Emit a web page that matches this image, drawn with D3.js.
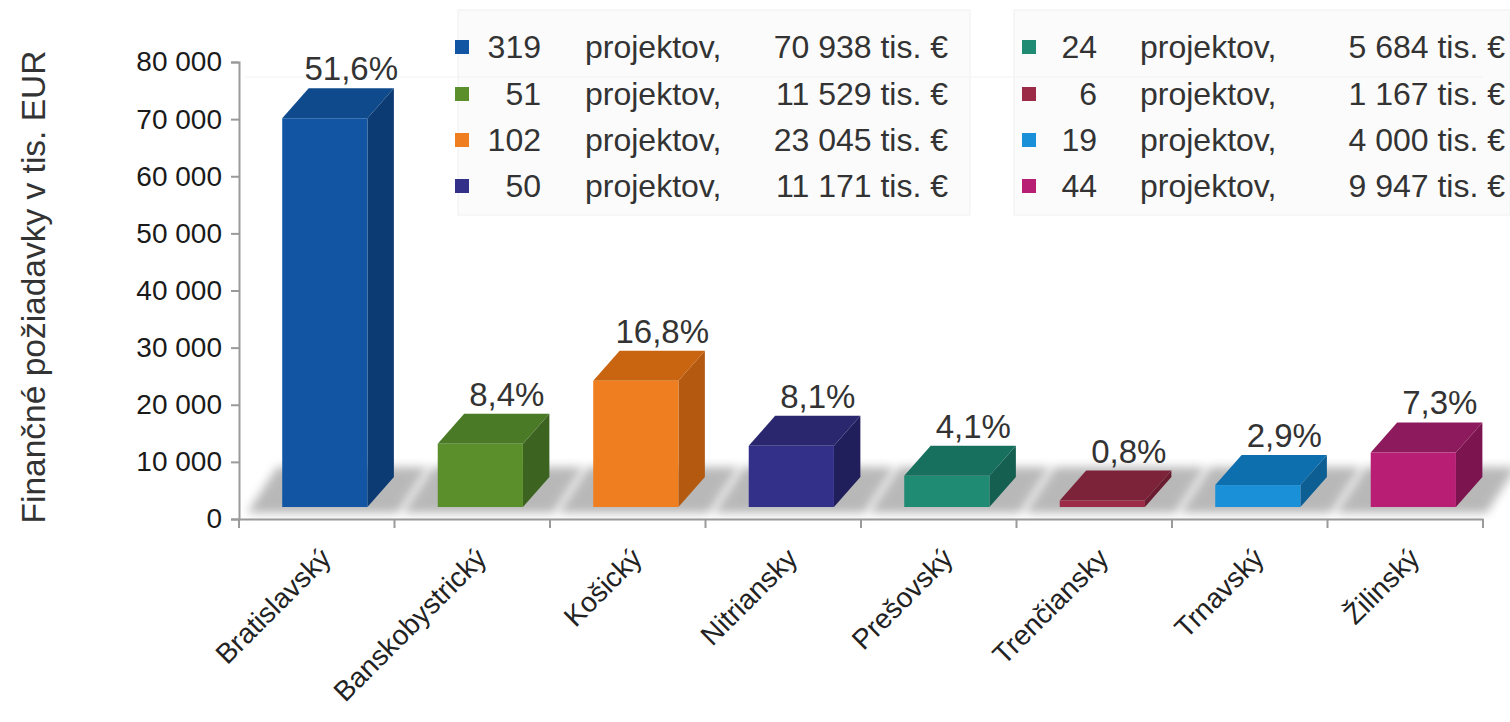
<!DOCTYPE html>
<html>
<head>
<meta charset="utf-8">
<script src="https://cdn.jsdelivr.net/npm/d3@7"></script>
<style>
  body { margin: 0; background: #fff; }
  text { font-family: "Liberation Sans", Arial, sans-serif; }
</style>
</head>
<body>
<svg></svg>
<script>
// data
const regions = ["Bratislavský", "Banskobystrický", "Košický", "Nitriansky", "Prešovský", "Trenčiansky", "Trnavský", "Žilinský"];
const amounts = [70938, 11529, 23045, 11171, 5684, 1167, 4000, 9947];
const projects = [319, 51, 102, 50, 24, 6, 19, 44];
const shares = ["51,6%", "8,4%", "16,8%", "8,1%", "4,1%", "0,8%", "2,9%", "7,3%"];
const yTicks = [0, 10000, 20000, 30000, 40000, 50000, 60000, 70000, 80000];

// front / side / top colours
const front = ["#1255a2", "#5b8f2c", "#ee7e1f", "#33308a", "#1f8b73", "#9b2b46", "#1a90d8", "#b81f74"];
const side  = ["#0c3a72", "#3c6320", "#b45910", "#211e5c", "#155f50", "#6a1c30", "#0c5e93", "#7c1450"];
const top_  = ["#0f4a8d", "#4b7a26", "#c96510", "#2a276f", "#176f5e", "#7c2239", "#0e6fae", "#8d1a5d"];

const W = 1510, H = 722;
const svg = d3.select("svg").attr("width", W).attr("height", H);

const defs = svg.append("defs");
defs.append("filter").attr("id", "blur")
  .attr("x", "-50%").attr("y", "-50%").attr("width", "200%").attr("height", "200%")
  .append("feGaussianBlur").attr("stdDeviation", 5);

// scales
const x = d3.scaleBand().domain(regions).range([239, 1483]);
const y = d3.scaleLinear().domain([0, 80000]).range([519, 62]);
const yBar = d3.scaleLinear().domain([0, 80000]).range([507, 507 - 80000 * 0.00548]);

const bw = x.bandwidth();
const fx = d => x(d) + bw * 0.278;   // front left
const fw = bw * 0.548;               // front width
const dx = bw * 0.17, dy = -30;      // depth offset

// legend boxes
const legendBoxes = [[458, 10, 512, 205], [1014, 10, 496, 205]];
svg.selectAll(".lbox").data(legendBoxes).enter().append("rect")
  .attr("x", d => d[0]).attr("y", d => d[1])
  .attr("width", d => d[2]).attr("height", d => d[3])
  .attr("fill", "#fbfbfb").attr("stroke", "#f0f0f0");

// back wall line
svg.append("line").attr("x1", 245).attr("x2", 1483).attr("y1", 77).attr("y2", 77)
  .attr("stroke", "#f2f2f2");

// axes
const yAxis = d3.axisLeft(y).tickValues(yTicks).tickSize(8).tickPadding(9)
  .tickFormat(d => d3.format(",")(d).replace(/,/g, " "));
const gy = svg.append("g").attr("transform", "translate(239,0)").call(yAxis);
gy.select(".domain").attr("stroke", "#9a9a9a").attr("stroke-width", 2);
gy.selectAll(".tick line").attr("stroke", "#9a9a9a").attr("stroke-width", 2);
gy.selectAll(".tick text").attr("font-size", 28).attr("fill", "#1a1a1a")
  .attr("font-family", "Lato, 'Open Sans', sans-serif");

const xAxis = d3.axisBottom(x).tickSize(0).tickFormat("");
const gx = svg.append("g").attr("transform", "translate(0,519)").call(xAxis);
gx.select(".domain").attr("stroke", "#9a9a9a").attr("stroke-width", 2);
gx.selectAll(".tick").remove();
const bounds = regions.map(r => x(r)).concat([x.range()[1]]);
gx.selectAll(".bt").data(bounds).enter().append("line")
  .attr("x1", d => d).attr("x2", d => d).attr("y1", 0).attr("y2", 9)
  .attr("stroke", "#9a9a9a").attr("stroke-width", 2);

// y title
svg.append("text")
  .attr("transform", "translate(45,287) rotate(-90)")
  .attr("text-anchor", "middle").attr("font-size", 33.5).attr("fill", "#333")
  .text("Finančné požiadavky v tis. EUR");

// bars
const bars = svg.selectAll(".bar").data(regions).enter().append("g").attr("class", "bar");

// floor shadow, slanted like the bar depth
bars.append("path")
  .attr("d", d => {
    const l = fx(d), r = l + fw + dx, b = yBar(0);
    return `M${l - 35},${b + 6} L${r + 4},${b + 6} L${r + 34},${b - 40} L${l - 5},${b - 40} Z`;
  })
  .attr("fill", "#8a8a8a").attr("opacity", 0.6).attr("filter", "url(#blur)");

// side face
bars.append("path")
  .attr("d", (d, i) => {
    const r = fx(d) + fw, b = yBar(0), t = yBar(amounts[i]);
    return `M${r},${b} L${r},${t} L${r + dx},${t + dy} L${r + dx},${b + dy} Z`;
  })
  .attr("fill", (d, i) => side[i]);

// top face
bars.append("path")
  .attr("d", (d, i) => {
    const l = fx(d), t = yBar(amounts[i]);
    return `M${l},${t} L${l + fw},${t} L${l + fw + dx},${t + dy} L${l + dx},${t + dy} Z`;
  })
  .attr("fill", (d, i) => top_[i]);

// front face
bars.append("rect")
  .attr("x", d => fx(d)).attr("width", fw)
  .attr("y", (d, i) => yBar(amounts[i]))
  .attr("height", (d, i) => yBar(0) - yBar(amounts[i]))
  .attr("fill", (d, i) => front[i]);

// percentage labels
bars.append("text")
  .attr("x", d => fx(d) + dx + fw / 2)
  .attr("y", (d, i) => yBar(amounts[i]) + dy - 8)
  .attr("text-anchor", "middle").attr("font-size", 33).attr("fill", "#333")
  .text((d, i) => shares[i]);

// category labels
svg.selectAll(".cat").data(regions).enter().append("text")
  .attr("transform", d => `translate(${x(d) + bw / 2 + 16},560) rotate(-45)`)
  .attr("text-anchor", "end").attr("font-size", 28).attr("fill", "#222")
  .attr("font-family", "Lato, 'Open Sans', sans-serif")
  .text(d => d);

// legend
const fmt = v => d3.format(",")(v).replace(/,/g, " ") + " tis. €";
const rowY = [47, 94, 140, 186];
const cols = [
  { sq: 455, num: 541, word: 585, val: 948 },
  { sq: 1022, num: 1097, word: 1140, val: 1505 }
];
const leg = svg.selectAll(".leg").data(regions).enter().append("g")
  .attr("transform", (d, i) => `translate(0,${rowY[i % 4]})`);
leg.append("rect")
  .attr("x", (d, i) => cols[Math.floor(i / 4)].sq).attr("y", -7)
  .attr("width", 14).attr("height", 14)
  .attr("fill", (d, i) => front[i]);
leg.append("text")
  .attr("x", (d, i) => cols[Math.floor(i / 4)].num).attr("dy", "0.35em")
  .attr("text-anchor", "end").attr("font-size", 32).attr("fill", "#333")
  .text((d, i) => projects[i]);
leg.append("text")
  .attr("x", (d, i) => cols[Math.floor(i / 4)].word).attr("dy", "0.35em")
  .attr("font-size", 32).attr("fill", "#333")
  .text("projektov,");
leg.append("text")
  .attr("x", (d, i) => cols[Math.floor(i / 4)].val).attr("dy", "0.35em")
  .attr("text-anchor", "end").attr("font-size", 32).attr("fill", "#333")
  .text((d, i) => fmt(amounts[i]));
</script>
</body>
</html>
